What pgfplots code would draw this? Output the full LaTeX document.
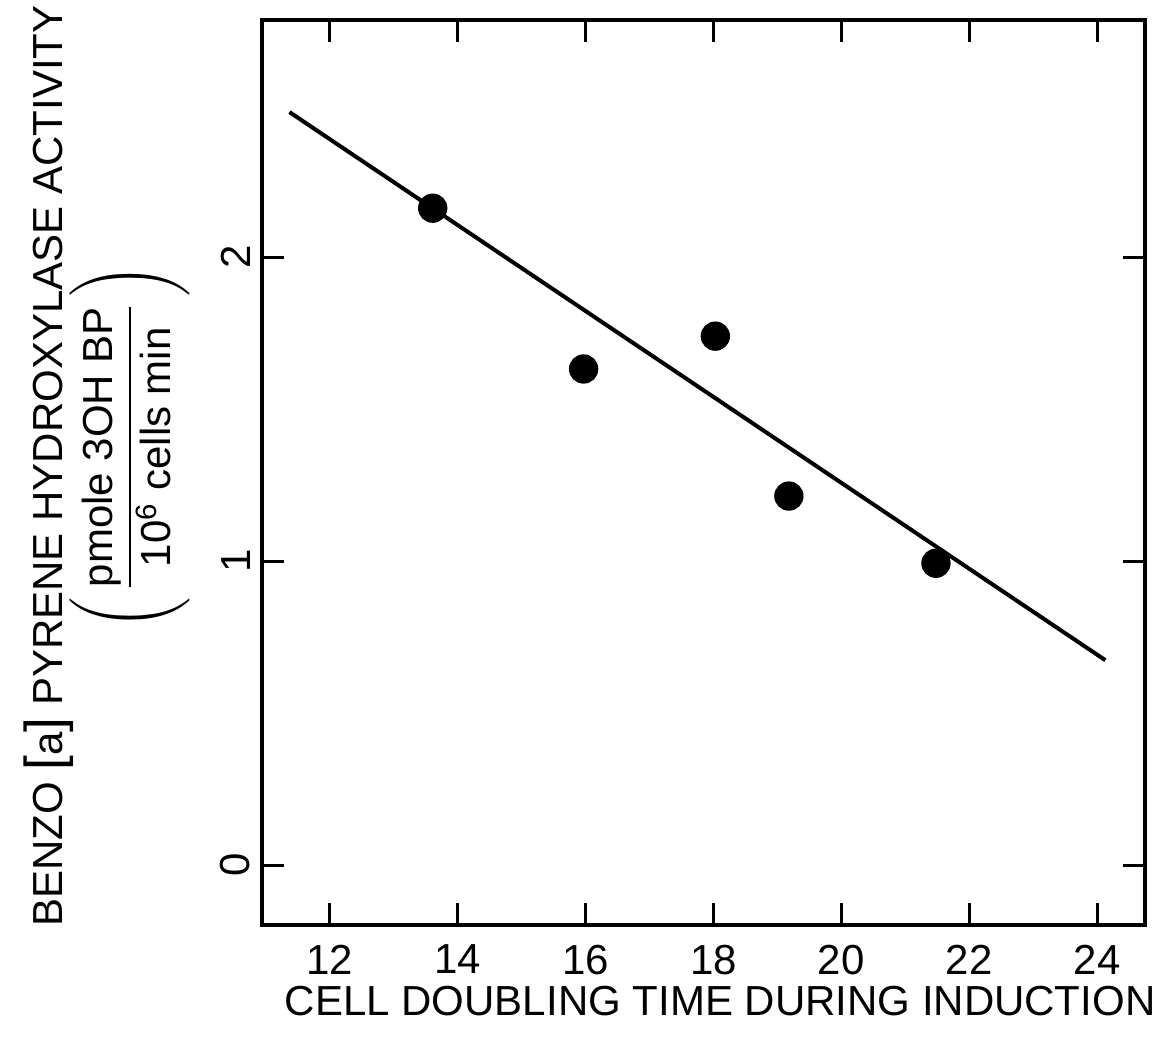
\documentclass[border=0pt]{standalone}
\usepackage{amsmath}
\usepackage{pgfplots}
\pgfplotsset{compat=1.18}
\usepackage{fontspec}
\setmainfont{Liberation Sans}
\newcommand{\lbl}{\fontsize{12.6}{15}\selectfont}
\begin{document}
\begin{tikzpicture}
\begin{axis}[
  scale only axis,
  width=264.9pt, height=271.5pt,
  xmin=10.94, xmax=24.75, ymin=-0.197, ymax=2.78,
  xtick={12,14,16,18,20,22,24},
  ytick={0,1,2},
  tick align=inside,
  major tick length=6.5pt,
  tick style={black, line width=0.9pt},
  axis line style={line width=1.2pt},
  xticklabel style={font=\lbl, yshift=-2.4pt},
  yticklabel style={font=\lbl, rotate=90, anchor=south},
  /pgf/number format/assume math mode=true,
  clip=false,
  xlabel={CELL DOUBLING TIME DURING INDUCTION},
  xlabel style={font=\lbl, at={(rel axis cs:0.5,0)}, anchor=north, yshift=-18pt, xshift=5pt, inner sep=0pt},
]
\addplot[line width=1.2pt, black] coordinates {(11.37,2.477) (24.13,0.674)};
\addplot[only marks, mark=*, mark size=4.2pt, black] coordinates {
  (13.61,2.161) (15.97,1.632) (18.03,1.740) (19.18,1.214) (21.48,0.993)
};
\node[rotate=90, font=\lbl, inner sep=0pt] at ([xshift=-63.9pt]rel axis cs:0,0.507)
  {BENZO {\fontsize{16}{16}\selectfont[}a{\fontsize{16}{16}\selectfont]} PYRENE HYDROXYLASE ACTIVITY};
\node[rotate=90, font=\lbl, inner sep=0pt] at ([xshift=-39.6pt]rel axis cs:0,0.528)
  {$\Bigg(\,\dfrac{\text{pmole 3OH BP}}{\text{10\textsuperscript{6} cells min}}\,\Bigg)$};
\end{axis}
\path (current axis.south west) ++(-78.6pt,-35.4pt) rectangle ++(346.8pt,312.9pt);
\end{tikzpicture}
\end{document}
